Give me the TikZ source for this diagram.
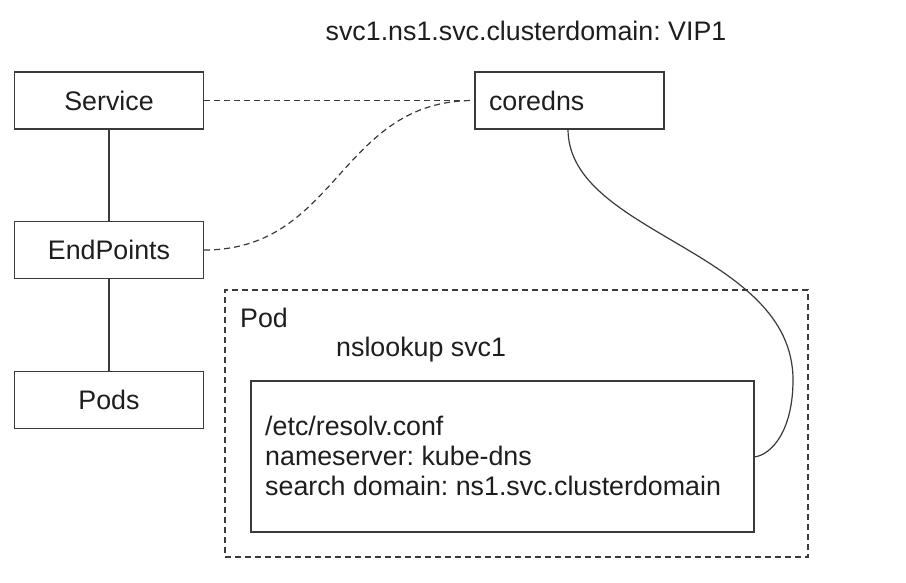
\documentclass[tikz,border=0pt]{standalone}
\usepackage{fontspec}
\setmainfont{Liberation Sans}
\definecolor{ln}{HTML}{3A3A3A}
\definecolor{tx}{HTML}{1E1E1E}
\begin{document}
\frenchspacing
\begin{tikzpicture}[x=1pt,y=-1pt,
  every node/.style={text=tx, font=\fontsize{26.8}{30}\selectfont},
  box/.style={draw=ln, line width=1.3pt, minimum width=189pt, minimum height=57pt, inner sep=0pt},
  dsh/.style={draw=ln, line width=1.2pt, dash pattern=on 6pt off 4pt},
  sol/.style={draw=ln, line width=1.2pt}]
\useasboundingbox (0,0) rectangle (906,583);
\node[box] (svc) at (109,100.5) {Service};
\node[box] (ep) at (109,250) {EndPoints};
\node[box] (pods) at (109,400) {Pods};
\node[box, text width=161pt, align=left] (cd) at (569.5,100.5) {coredns};
\node[anchor=base, inner sep=0pt] (vip) at (526,41) {svc1.ns1.svc.clusterdomain: VIP1};
\node[dsh, minimum width=583pt, minimum height=267pt, inner sep=0pt] (pod) at (516.5,423.5) {};
\node[anchor=base west, inner sep=0pt] (podl) at (240,327) {Pod};
\node[anchor=base west, inner sep=0pt] (ns) at (336,356) {nslookup svc1};
\node[draw=ln, line width=1.3pt, minimum width=503pt, minimum height=151pt, inner sep=0pt] (rc) at (502.5,456.5) {};
\node[anchor=base west, align=left, inner sep=0pt] (rt) at (265,495) {/etc/resolv.conf\\nameserver: kube-dns\\search domain: ns1.svc.clusterdomain};
\draw[sol] (svc.south) -- (ep.north);
\draw[sol] (ep.south) -- (pods.north);
\draw[dsh] (svc.east) -- (cd.west);
\draw[dsh] (ep.east) .. controls (339,250) and (339,100) .. (cd.west);
\coordinate (cdb) at (568,129);
\coordinate (rcr) at (754,457);
\draw[sol] (cdb) .. controls (568,235) and (793,250) .. (793,380) .. controls (793,430) and (772,455) .. (rcr);
\end{tikzpicture}
\end{document}
